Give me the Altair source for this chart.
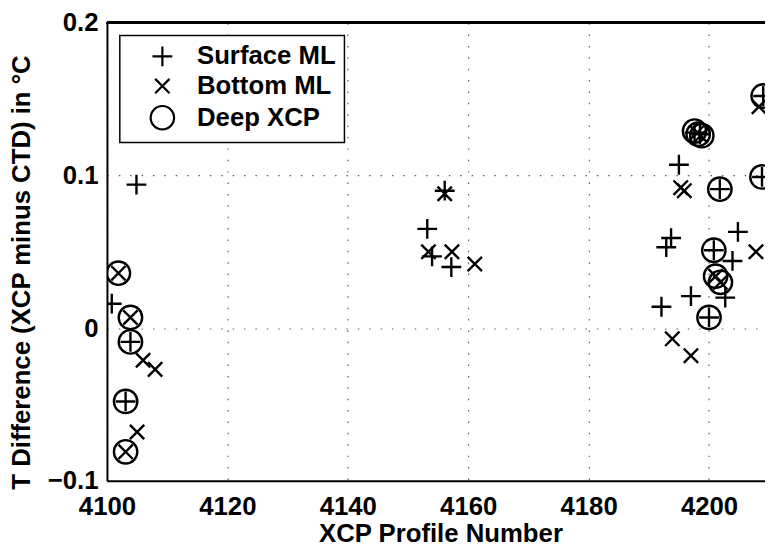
import altair as alt
import pandas as pd

# ---- data ----
surface_x = [4104.9, 4100.8, 4103.9, 4103.1,
             4156.1, 4153.2, 4154.0, 4157.2,
             4195.0, 4201.8, 4204.8, 4208.8, 4209.0, 4193.7, 4192.9, 4200.8,
             4203.9, 4202.7, 4197.0, 4192.1, 4200.0, 4197.6, 4198.5]
surface_y = [0.094, 0.016, -0.009, -0.048,
             0.090, 0.065, 0.047, 0.040,
             0.107, 0.091, 0.063, 0.099, 0.152, 0.059, 0.053, 0.051,
             0.044, 0.020, 0.021, 0.014, 0.007, 0.128, 0.127]

bottom_x = [4101.9, 4103.9, 4106.0, 4108.0, 4105.0, 4103.1,
            4156.1, 4153.4, 4157.3, 4161.1,
            4195.3, 4195.9, 4208.3, 4207.8, 4201.1, 4201.9, 4193.9, 4197.0,
            4198.0, 4198.6]
bottom_y = [0.036, 0.007, -0.021, -0.027, -0.068, -0.081,
            0.088, 0.050, 0.050, 0.042,
            0.092, 0.090, 0.145, 0.050, 0.034, 0.030, -0.007, -0.018,
            0.128, 0.126]

deep_x = [4101.9, 4103.9, 4103.9, 4103.1, 4103.1,
          4201.8, 4208.8, 4209.0, 4200.8, 4201.1, 4201.9, 4200.0,
          4197.6, 4198.2, 4198.8]
deep_y = [0.036, 0.007, -0.009, -0.048, -0.081,
          0.091, 0.099, 0.152, 0.051, 0.034, 0.030, 0.007,
          0.129, 0.127, 0.126]

series = ["Surface ML", "Bottom ML", "Deep XCP"]
x_ticks = [4100, 4120, 4140, 4160, 4180, 4200]
y_ticks = [-0.1, 0, 0.1, 0.2]

rows = []
for name, xs, ys in [(series[0], surface_x, surface_y),
                     (series[1], bottom_x, bottom_y),
                     (series[2], deep_x, deep_y)]:
    for xv, yv in zip(xs, ys):
        rows.append({"profile": xv, "diff": yv, "type": name})
df = pd.DataFrame(rows)

PLUS = "M-1,0L1,0M0,-1L0,1"
CROSS = "M-1,-1L1,1M-1,1L1,-1"
FONT = "Liberation Sans"

xscale = alt.Scale(domain=[4100, 4209.3], nice=False, zero=False)
yscale = alt.Scale(domain=[-0.1, 0.2], nice=False, zero=False)

points = alt.Chart(df).mark_point(
    filled=False, color="black", strokeWidth=2.4, opacity=1, clip=True
).encode(
    x=alt.X("profile:Q", scale=xscale,
            axis=alt.Axis(values=x_ticks, title="XCP Profile Number", format="d",
                          titleX=337, titleY=53, titleBaseline="middle",
                          labelPadding=13, ticks=False, labelFlush=False)),
    y=alt.Y("diff:Q", scale=yscale,
            axis=alt.Axis(values=y_ticks, title="T Difference (XCP minus CTD) in °C",
                          titleX=-86, titleY=252, titleBaseline="middle",
                          titleAlign="center", titleAngle=-90,
                          labelPadding=9, ticks=False, labelFlush=False,
                          labelExpr="datum.value == 0 ? '0' : format(datum.value, '.1f')")),
    shape=alt.Shape("type:N",
                    scale=alt.Scale(domain=series, range=[PLUS, CROSS, "circle"]),
                    legend=alt.Legend(title=None, orient="top-left", offset=13)),
    size=alt.Size("type:N",
                  scale=alt.Scale(type="ordinal", domain=series, range=[400, 210, 560]),
                  legend=alt.Legend(title=None, orient="top-left", offset=13)),
)

top_rule = alt.Chart(df).mark_rule(color="black", strokeWidth=2).encode(
    y=alt.datum(0.2, type="quantitative", scale=yscale)
)

chart = alt.layer(points, top_rule).properties(
    width=665, height=463,
    padding={"left": 100, "top": 12, "right": 0, "bottom": 67},
    autosize=alt.AutoSizeParams(type="none"),
).configure_view(
    stroke=None
).configure_axis(
    domainColor="black", domainWidth=2,
    grid=True, gridColor="#333333", gridDash=[1.5, 10], gridWidth=1.2, gridOpacity=0.8,
    labelFont=FONT, labelFontSize=26, labelFontWeight="bold", labelColor="black",
    titleFont=FONT, titleFontSize=26, titleFontWeight="bold", titleColor="black",
).configure_legend(
    labelFont=FONT, labelFontSize=26, labelFontWeight="bold", labelColor="black",
    fillColor="white", strokeColor="black", strokeWidth=1.5,
    padding=8, symbolOffset=22, labelOffset=22, rowPadding=2,
    symbolStrokeColor="black", symbolStrokeWidth=2.2, symbolFillColor="transparent",
)

chart.save("out.html", embed_options={"renderer": "svg", "actions": False})
